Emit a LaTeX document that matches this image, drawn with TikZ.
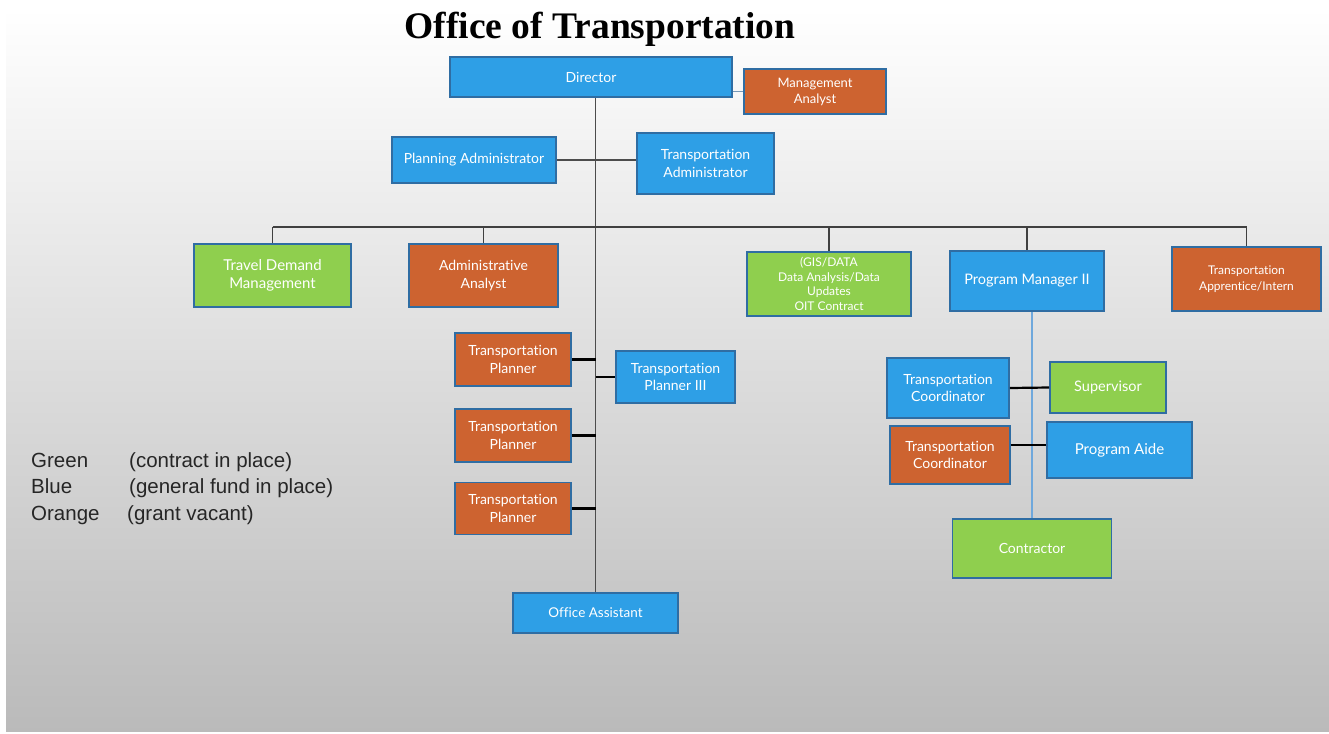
\documentclass[tikz,border=0pt]{standalone}
\usepackage{fontspec}
\setmainfont{Lato}[Ligatures=NoCommon]
\newfontfamily\legendfont{Liberation Sans}
\newfontfamily\titlefont{Liberation Serif}
\usepackage{tikz}
\usetikzlibrary{calc}

\definecolor{fundblue}{HTML}{2E9FE6}
\definecolor{grantorange}{HTML}{CD6330}
\definecolor{contractgreen}{HTML}{8FCF4E}
\definecolor{boxedge}{HTML}{2F6DA3}
\definecolor{linkblue}{HTML}{6FA8DC}

\tikzset{
  post/.style={draw=boxedge, line width=1.8pt, text=white, align=center, inner sep=0pt, font=\fontsize{14}{17.5}\selectfont},
  blue post/.style={post, fill=fundblue},
  orange post/.style={post, fill=grantorange},
  green post/.style={post, fill=contractgreen},
  trunk/.style={draw=black!70, line width=1.6pt},
  bus/.style={draw=black!75, line width=1.3pt},
  tie/.style={draw=black, line width=2.2pt},
  link/.style={draw=linkblue, line width=1.3pt},
  key/.style={anchor=base west, inner sep=0pt, font=\legendfont\fontsize{20.5}{22}\selectfont, text=black!85}
}

\begin{document}
\begin{tikzpicture}[x=1pt,y=-1pt]
    \useasboundingbox (0,0) rectangle (1329,733);
    \fill[white] (0,0) rectangle (1329,733);
    \shade[top color=white, bottom color=black!27] (6,8) rectangle (1329,731);
    \node[anchor=base, font=\titlefont\bfseries\fontsize{37.5}{40}\selectfont] (title) at (600,39) {Office of Transportation};

    \node[blue post, minimum width=282pt, minimum height=40pt] (director) at (591,77) {Director};
    \node[orange post, minimum width=142pt, minimum height=45pt, font=\fontsize{13}{16}\selectfont] (mgmt) at (815,91.5) {Management\\Analyst};
    \node[blue post, minimum width=164pt, minimum height=46pt] (planadm) at (474,160) {Planning Administrator};
    \node[blue post, minimum width=137pt, minimum height=61pt] (transadm) at (705.5,163.5) {Transportation\\Administrator};

    \node[green post, minimum width=157pt, minimum height=63pt, font=\fontsize{15}{18.5}\selectfont] (tdm) at (272.5,275.5) {Travel Demand\\Management};
    \node[orange post, minimum width=149pt, minimum height=63pt] (admin) at (483.5,275.5) {Administrative\\Analyst};
    \node[green post, minimum width=164pt, minimum height=64pt, font=\fontsize{12}{14.5}\selectfont] (gis) at (829,284) {(GIS/DATA\\Data Analysis/Data\\Updates\\OIT Contract};
    \node[blue post, minimum width=154pt, minimum height=60pt, font=\fontsize{14.5}{17.5}\selectfont] (pm) at (1027,281) {Program Manager II};
    \node[orange post, minimum width=149pt, minimum height=64pt, font=\fontsize{12}{16}\selectfont] (intern) at (1246.5,279) {Transportation\\Apprentice/Intern};

    \node[orange post, minimum width=116pt, minimum height=53pt] (tpA) at (513,359.5) {Transportation\\Planner};
    \node[blue post, minimum width=119pt, minimum height=52pt] (tpiii) at (675.5,377) {Transportation\\Planner III};
    \node[orange post, minimum width=116pt, minimum height=53pt] (tpB) at (513,435.5) {Transportation\\Planner};
    \node[orange post, minimum width=116pt, minimum height=52pt] (tpC) at (513,508.5) {Transportation\\Planner};
    \node[blue post, minimum width=165pt, minimum height=40pt, font=\fontsize{13.5}{16}\selectfont] (office) at (595.5,613) {Office Assistant};

    \node[blue post, minimum width=122pt, minimum height=60pt] (tcA) at (948,388) {Transportation\\Coordinator};
    \node[green post, minimum width=116pt, minimum height=51pt, font=\fontsize{14.5}{17.5}\selectfont] (superv) at (1108,387.5) {Supervisor};
    \node[orange post, minimum width=120pt, minimum height=58pt] (tcB) at (950,455) {Transportation\\Coordinator};
    \node[blue post, minimum width=145pt, minimum height=56pt, font=\fontsize{15}{18}\selectfont] (aide) at (1119.5,450) {Program Aide};
    \node[green post, minimum width=159pt, minimum height=59pt] (contr) at (1032,548.5) {Contractor};

    \coordinate (bus) at (0,227);
    \draw[trunk] (director.south -| office.north) -- (office.north);
    \draw[link, draw=linkblue!60!gray] (mgmt.west -| director.east) -- (mgmt.west);
    \draw[trunk] (planadm.east) -- (planadm.east -| transadm.west);
    \draw[bus] (tdm.north |- bus) -- (intern.north |- bus);
    \draw[bus] (tdm.north |- bus) -- (tdm.north) (admin.north |- bus) -- (admin.north) (gis.north |- bus) -- (gis.north) (pm.north |- bus) -- (pm.north) (intern.north |- bus) -- (intern.north);
    \draw[tie] (tpA.east) -- (tpA.east -| office.north) (tpB.east) -- (tpB.east -| office.north) (tpC.east) -- (tpC.east -| office.north);
    \draw[tie] (tpiii.west -| office.north) -- (tpiii.west);
    \draw[link] (pm.south -| contr.north) -- (contr.north);
    \draw[tie] (tcA.east) -- (superv.west);
    \draw[tie] ([yshift=10pt]tcB.east) -- ([yshift=10pt]tcB.east -| aide.west);

    \node[key] (green) at (31,467) {Green};
    \node[key] (greennote) at (129,467) {(contract in place)};
    \node[key] (blue) at (31,493) {Blue};
    \node[key] (bluenote) at (129,493) {(general fund in place)};
    \node[key] (orange) at (31,520) {Orange};
    \node[key] (orangenote) at (127,520) {(grant vacant)};
\end{tikzpicture}
\end{document}
